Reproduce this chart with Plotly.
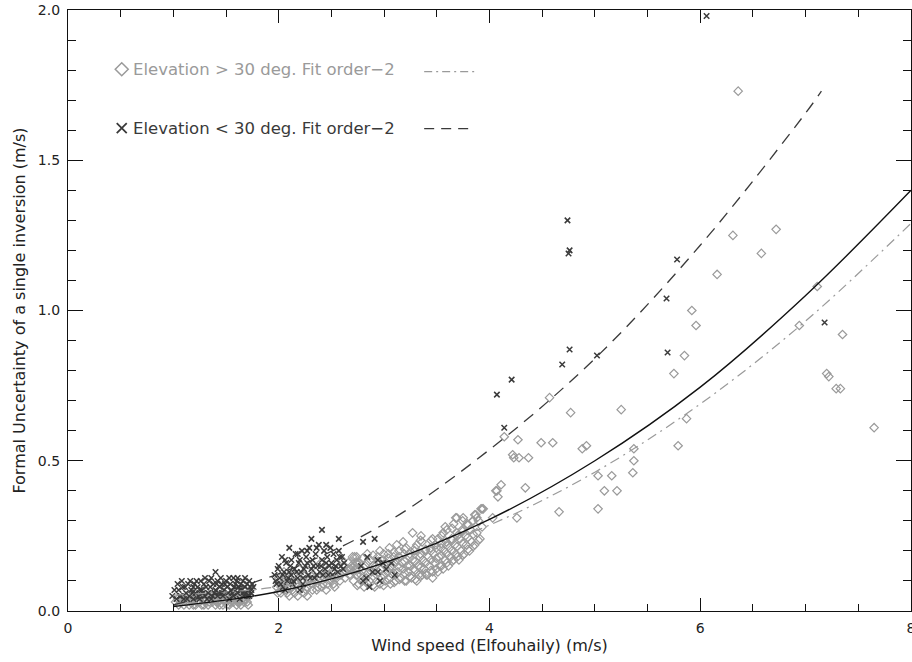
import plotly.graph_objects as go

# ---------------- data ----------------
# Elevation > 30 deg (grey open diamonds)
high_cluster_a = [(1.02,0.03),(1.05,0.02),(1.08,0.04),(1.10,0.02),(1.12,0.03),(1.14,0.05),(1.15,0.02),
    (1.18,0.03),(1.20,0.04),(1.21,0.02),(1.23,0.05),(1.25,0.03),(1.27,0.02),(1.28,0.04),(1.30,0.03),
    (1.32,0.05),(1.33,0.02),(1.35,0.04),(1.37,0.03),(1.38,0.06),(1.40,0.02),(1.42,0.04),(1.43,0.03),
    (1.45,0.05),(1.47,0.02),(1.48,0.04),(1.50,0.03),(1.52,0.05),(1.53,0.02),(1.55,0.04),(1.57,0.03),
    (1.58,0.06),(1.60,0.02),(1.62,0.04),(1.63,0.03),(1.65,0.05),(1.67,0.03),(1.68,0.04),(1.70,0.03),
    (1.72,0.05),(1.30,0.07),(1.45,0.07),(1.60,0.07),(1.20,0.06),(1.68,0.07),
    (1.04,0.04),(1.07,0.03),(1.11,0.04),(1.16,0.04),(1.19,0.02),(1.22,0.03),(1.26,0.05),(1.29,0.02),
    (1.31,0.04),(1.34,0.03),(1.36,0.05),(1.39,0.04),(1.41,0.03),(1.44,0.02),(1.46,0.04),(1.49,0.05),
    (1.51,0.02),(1.54,0.03),(1.56,0.05),(1.59,0.04),(1.61,0.03),(1.64,0.02),(1.66,0.04),(1.69,0.05),
    (1.71,0.02)]
high_cluster_b = [(1.98,0.08),(2.00,0.11),(2.02,0.06),(2.04,0.09),(2.05,0.13),(2.07,0.07),(2.09,0.10),
    (2.10,0.05),(2.12,0.08),(2.14,0.12),(2.15,0.06),(2.17,0.09),(2.19,0.14),(2.20,0.07),(2.22,0.10),
    (2.24,0.06),(2.25,0.12),(2.27,0.08),(2.29,0.11),(2.30,0.15),(2.32,0.07),(2.34,0.10),(2.35,0.13),
    (2.37,0.08),(2.39,0.11),(2.40,0.16),(2.42,0.09),(2.44,0.12),(2.45,0.07),(2.47,0.14),(2.49,0.10),
    (2.50,0.13),(2.52,0.09),(2.54,0.16),(2.55,0.11),(2.57,0.14),(2.59,0.12),(2.60,0.17),(2.62,0.15),
    (2.64,0.13),(2.66,0.16),(2.68,0.14),(2.70,0.18),(2.72,0.15),(2.27,0.05),
    (1.99,0.06),(2.03,0.08),(2.06,0.10),(2.08,0.06),(2.11,0.11),(2.13,0.07),(2.16,0.10),(2.18,0.05),
    (2.21,0.08),(2.23,0.12),(2.26,0.07),(2.28,0.10),(2.31,0.09),(2.33,0.12),(2.36,0.07),(2.38,0.10),
    (2.41,0.08),(2.43,0.11),(2.46,0.09),(2.48,0.12),(2.51,0.11),(2.53,0.08),(2.56,0.12),(2.58,0.10),
    (2.61,0.13),(2.63,0.11),(2.65,0.14),(2.67,0.12),(2.69,0.15),(2.71,0.13),(2.74,0.16),(2.74,0.12)]
high_cluster_c = [(2.71,0.10),(2.73,0.14),(2.72,0.18),(2.76,0.09),(2.78,0.12),(2.77,0.16),
    (2.81,0.08),(2.83,0.11),(2.82,0.15),(2.84,0.19),(2.86,0.10),(2.88,0.13),(2.87,0.17),
    (2.91,0.08),(2.93,0.12),(2.92,0.15),(2.94,0.18),(2.96,0.09),(2.98,0.11),(2.97,0.14),(2.99,0.17),
    (3.01,0.10),(3.03,0.13),(3.02,0.16),(3.04,0.19),(3.06,0.09),(3.08,0.12),(3.07,0.15),(3.09,0.18),
    (3.11,0.10),(3.13,0.13),(3.12,0.17),(3.14,0.20),(3.16,0.11),(3.18,0.14),(3.17,0.16),(3.19,0.19),
    (3.21,0.10),(3.23,0.13),(3.22,0.15),(3.24,0.18),(3.21,0.21),(3.26,0.11),(3.28,0.14),(3.27,0.17),
    (3.29,0.20),(3.31,0.10),(3.33,0.12),(3.32,0.15),(3.34,0.18),(3.31,0.22),(3.36,0.12),(3.38,0.14),
    (3.37,0.17),(3.39,0.20),(3.36,0.23),(3.41,0.12),(3.43,0.15),(3.42,0.18),(3.44,0.21),
    (3.46,0.13),(3.48,0.16),(3.47,0.19),(3.49,0.22),(3.51,0.13),(3.53,0.15),(3.52,0.18),(3.54,0.21),
    (3.51,0.24),(3.56,0.14),(3.58,0.17),(3.57,0.20),(3.59,0.23),(3.56,0.26),(3.61,0.15),(3.63,0.18),
    (3.62,0.21),(3.64,0.24),(3.66,0.17),(3.68,0.19),(3.67,0.22),(3.69,0.26),(3.66,0.29),(3.71,0.17),
    (3.73,0.20),(3.72,0.24),(3.74,0.27),(3.76,0.19),(3.78,0.22),(3.77,0.25),(3.79,0.29),(3.81,0.20),
    (3.83,0.23),(3.82,0.27),(3.84,0.30),(3.86,0.22),(3.88,0.26),(3.87,0.32),(3.91,0.24),(3.93,0.28),
    (3.92,0.34),(2.74,0.18),(3.12,0.22),(3.27,0.26),(3.46,0.24),(3.46,0.11),(3.40,0.12),(3.69,0.31),
    (2.96,0.20),(3.05,0.21),(3.18,0.23),(3.35,0.25),(3.58,0.28),(3.75,0.31)]
high_cluster_c2 = [(2.745,0.085),(2.745,0.12),(2.745,0.155),(2.795,0.10),(2.795,0.135),(2.795,0.175),
    (2.845,0.09),(2.845,0.125),(2.845,0.16),(2.895,0.085),(2.895,0.115),(2.895,0.15),(2.895,0.185),
    (2.945,0.095),(2.945,0.13),(2.945,0.165),(2.995,0.085),(2.995,0.12),(2.995,0.155),(2.995,0.19),
    (3.045,0.105),(3.045,0.14),(3.045,0.175),(3.095,0.095),(3.095,0.125),(3.095,0.16),(3.095,0.195),
    (3.145,0.105),(3.145,0.145),(3.145,0.18),(3.195,0.10),(3.195,0.125),(3.195,0.165),(3.195,0.205),
    (3.245,0.115),(3.245,0.15),(3.245,0.19),(3.295,0.105),(3.295,0.135),(3.295,0.165),(3.295,0.21),
    (3.345,0.115),(3.345,0.145),(3.345,0.19),(3.345,0.235),(3.395,0.125),(3.395,0.16),(3.395,0.205),
    (3.445,0.135),(3.445,0.17),(3.445,0.20),(3.445,0.235),(3.495,0.14),(3.495,0.175),(3.495,0.21),
    (3.545,0.15),(3.545,0.185),(3.545,0.225),(3.545,0.25),(3.595,0.16),(3.595,0.19),(3.595,0.22),
    (3.595,0.27),(3.645,0.165),(3.645,0.20),(3.645,0.235),(3.645,0.275),(3.695,0.18),(3.695,0.215),
    (3.695,0.25),(3.745,0.185),(3.745,0.225),(3.745,0.265),(3.745,0.30),(3.795,0.205),(3.795,0.245),
    (3.795,0.285),(3.845,0.215),(3.845,0.255),(3.845,0.30),(3.895,0.235),(3.895,0.30)]
high_sparse = [(4.07,0.40),(4.11,0.42),(4.08,0.38),(3.93,0.34),(3.86,0.32),(4.57,0.71),(4.77,0.66),
    (5.25,0.67),(4.14,0.58),(4.27,0.57),(4.49,0.56),(4.60,0.56),(4.22,0.52),(4.23,0.51),(4.28,0.51),
    (4.37,0.51),(4.92,0.55),(4.88,0.54),(5.37,0.54),(5.37,0.50),(5.36,0.46),(5.03,0.45),(5.16,0.45),
    (5.09,0.40),(5.21,0.40),(5.03,0.34),(4.66,0.33),(4.06,0.40),(4.34,0.41),(3.94,0.34),(3.88,0.31),
    (3.68,0.31),(4.03,0.31),(4.26,0.31),(6.58,1.19),(6.16,1.12),(5.92,1.00),(5.96,0.95),(5.85,0.85),
    (5.75,0.79),(7.11,1.08),(6.94,0.95),(7.35,0.92),(7.20,0.79),(7.22,0.78),(7.29,0.74),(7.33,0.74),
    (7.65,0.61),(5.87,0.64),(5.79,0.55),(6.36,1.73),(6.31,1.25),(6.72,1.27)]

# Elevation < 30 deg (dark crosses)
low_cluster_a = [(0.99,0.05),(1.03,0.04),(1.05,0.07),(1.07,0.05),(1.09,0.08),(1.10,0.04),(1.12,0.06),
    (1.14,0.09),(1.15,0.05),(1.17,0.07),(1.19,0.04),(1.20,0.09),(1.21,0.06),(1.23,0.08),(1.24,0.05),
    (1.26,0.10),(1.27,0.07),(1.29,0.09),(1.30,0.05),(1.31,0.08),(1.33,0.06),(1.34,0.10),(1.35,0.08),
    (1.37,0.05),(1.38,0.09),(1.40,0.13),(1.40,0.07),(1.42,0.10),(1.43,0.06),(1.44,0.08),(1.46,0.09),
    (1.47,0.05),(1.48,0.07),(1.50,0.10),(1.51,0.08),(1.52,0.06),(1.54,0.09),(1.55,0.07),(1.57,0.11),
    (1.57,0.05),(1.58,0.08),(1.60,0.10),(1.61,0.06),(1.62,0.08),(1.63,0.04),(1.64,0.09),(1.65,0.07),
    (1.66,0.10),(1.67,0.05),(1.68,0.08),(1.69,0.06),(1.70,0.09),(1.71,0.07),(1.72,0.05),(1.73,0.08),
    (1.74,0.06),(1.75,0.09),(1.25,0.04),(1.36,0.04),(1.53,0.04),
    (1.01,0.07),(1.04,0.09),(1.06,0.05),(1.08,0.10),(1.11,0.08),(1.13,0.04),(1.16,0.10),(1.18,0.06),
    (1.22,0.10),(1.25,0.07),(1.28,0.06),(1.30,0.11),(1.32,0.04),(1.36,0.11),(1.39,0.06),(1.41,0.09),
    (1.45,0.11),(1.46,0.06),(1.49,0.09),(1.53,0.11),(1.56,0.06),(1.59,0.09),(1.61,0.11),(1.63,0.07),
    (1.66,0.06),(1.68,0.11),(1.70,0.05),(1.72,0.10),(1.74,0.07),(1.76,0.08),(1.19,0.08),(1.42,0.05)]
low_cluster_b = [(1.96,0.12),(1.98,0.09),(2.00,0.15),(2.01,0.11),(2.03,0.18),(2.04,0.08),(2.05,0.13),
    (2.07,0.16),(2.08,0.10),(2.10,0.21),(2.10,0.13),(2.12,0.17),(2.13,0.09),(2.15,0.14),(2.16,0.19),
    (2.18,0.11),(2.19,0.16),(2.21,0.13),(2.22,0.20),(2.23,0.09),(2.25,0.15),(2.26,0.18),(2.28,0.12),
    (2.29,0.21),(2.31,0.24),(2.31,0.14),(2.32,0.17),(2.34,0.11),(2.35,0.19),(2.37,0.15),(2.38,0.22),
    (2.39,0.13),(2.41,0.27),(2.41,0.17),(2.43,0.20),(2.44,0.14),(2.46,0.18),(2.47,0.12),(2.49,0.21),
    (2.50,0.16),(2.52,0.19),(2.53,0.14),(2.55,0.17),(2.57,0.24),(2.57,0.20),(2.59,0.15),(2.60,0.18),
    (2.62,0.16),(2.06,0.07),(2.20,0.07),
    (1.97,0.10),(1.99,0.14),(2.02,0.09),(2.04,0.12),(2.06,0.17),(2.09,0.11),(2.11,0.15),(2.14,0.10),
    (2.17,0.13),(2.20,0.17),(2.23,0.11),(2.24,0.14),(2.27,0.16),(2.30,0.11),(2.33,0.15),(2.36,0.12),
    (2.36,0.21),(2.40,0.15),(2.42,0.12),(2.45,0.16),(2.48,0.15),(2.51,0.12),(2.54,0.15),(2.56,0.13),
    (2.58,0.18),(2.61,0.14),(2.27,0.20),(2.18,0.19),(2.45,0.22),(2.12,0.12)]
low_cluster_c = [(2.80,0.23),(2.91,0.24),(2.83,0.11),(2.94,0.13),(3.07,0.16),(2.80,0.10),(2.89,0.13),
    (2.99,0.16),(2.78,0.15),(2.86,0.08),(2.96,0.10),(3.02,0.14),(2.84,0.18),(3.10,0.12),(2.94,0.17)]
low_sparse = [(6.06,1.98),(4.74,1.30),(4.76,1.20),(4.75,1.19),(5.78,1.17),(5.68,1.04),(5.69,0.86),
    (7.18,0.96),(4.76,0.87),(4.69,0.82),(5.02,0.85),(4.21,0.77),(4.07,0.72),(4.14,0.61)]

# Quadratic fits
fit_all_x = [1.0, 2.0, 3.0, 4.0, 5.0, 6.0, 7.0, 8.0]
fit_all_y = [0.015, 0.065, 0.16, 0.305, 0.50, 0.745, 1.05, 1.40]
fit_low_x = [1.0, 2.0, 3.0, 4.0, 5.0, 6.0, 7.0, 7.15]
fit_low_y = [0.02, 0.124, 0.29, 0.537, 0.84, 1.217, 1.657, 1.73]
fit_high_x = [1.0, 2.0, 3.0, 4.0, 5.0, 6.0, 7.0, 8.0]
fit_high_y = [0.053, 0.081, 0.158, 0.286, 0.462, 0.689, 0.965, 1.29]

x_ticks = [0, 2, 4, 6, 8]
y_ticks = [0.0, 0.5, 1.0, 1.5, 2.0]

legend_high = "Elevation > 30 deg. Fit order\u22122"
legend_low = "Elevation < 30 deg. Fit order\u22122"
x_title = "Wind speed (Elfouhaily) (m/s)"
y_title = "Formal Uncertainty of a single inversion (m/s)"

GREY = "#9a9a9a"
DARK = "#3a3a3a"
FONT = "DejaVu Sans"

def unzip(*groups):
    xs, ys = [], []
    for g in groups:
        for a, b in g:
            xs.append(a); ys.append(b)
    return xs, ys

hx, hy = unzip(high_cluster_a, high_cluster_b, high_cluster_c, high_cluster_c2, high_sparse)
lx, ly = unzip(low_cluster_a, low_cluster_b, low_cluster_c, low_sparse)

fig = go.Figure()
fig.add_trace(go.Scatter(x=hx, y=hy, mode="markers",
    marker=dict(symbol="diamond-open", size=6.5, color=GREY, line=dict(width=1.2, color=GREY))))
fig.add_trace(go.Scatter(x=lx, y=ly, mode="markers",
    marker=dict(symbol="x-thin-open", size=5.5, color=DARK, line=dict(width=1.5, color=DARK))))
fig.add_trace(go.Scatter(x=fit_high_x, y=fit_high_y, mode="lines", line_shape="spline",
    line=dict(color=GREY, width=1.2, dash="10px,5px,2px,5px")))
fig.add_trace(go.Scatter(x=fit_low_x, y=fit_low_y, mode="lines", line_shape="spline",
    line=dict(color=DARK, width=1.3, dash="12px,8px")))
fig.add_trace(go.Scatter(x=fit_all_x, y=fit_all_y, mode="lines", line_shape="spline",
    line=dict(color="#111111", width=1.4)))

# legend (IDL style) in data coordinates
leg_x = 0.51
leg_y_high, leg_y_low = 1.803, 1.607
fig.add_trace(go.Scatter(x=[leg_x], y=[leg_y_high], mode="markers",
    marker=dict(symbol="diamond-open", size=10, color=GREY, line=dict(width=1.5, color=GREY))))
fig.add_trace(go.Scatter(x=[leg_x], y=[leg_y_low], mode="markers",
    marker=dict(symbol="x-thin-open", size=10, color=DARK, line=dict(width=1.8, color=DARK))))
fig.add_trace(go.Scatter(x=[3.38, 3.87], y=[1.795, 1.795], mode="lines",
    line=dict(color=GREY, width=1.2, dash="8px,4px,2px,4px")))
fig.add_trace(go.Scatter(x=[3.38, 3.81], y=[1.605, 1.605], mode="lines",
    line=dict(color=DARK, width=1.3, dash="10px,7px")))
fig.add_annotation(x=0.60, y=leg_y_high, text=legend_high, showarrow=False, xanchor="left",
    yanchor="middle", font=dict(family=FONT, size=16.5, color=GREY))
fig.add_annotation(x=0.60, y=leg_y_low, text=legend_low, showarrow=False, xanchor="left",
    yanchor="middle", font=dict(family=FONT, size=16.5, color=DARK))

axis_common = dict(showgrid=False, zeroline=False, showline=True, linecolor="#111111", linewidth=1.3,
    ticks="inside", mirror="ticks", tickcolor="#111111", tickwidth=1.3, ticklabeloverflow="allow",
    automargin=False, tickfont=dict(family=FONT, size=14, color="#222222"))
fig.update_xaxes(range=[0, 8], tickmode="array", tickvals=x_ticks, ticktext=[str(v) for v in x_ticks],
    ticklen=13,
    minor=dict(tickmode="linear", tick0=0, dtick=0.5, ticklen=7, ticks="inside", tickcolor="#111111", tickwidth=1.2),
    title=dict(text=x_title, font=dict(family=FONT, size=16, color="#222222"), standoff=4),
    ticklabelstandoff=4, **axis_common)
fig.update_yaxes(range=[0, 2], tickmode="array", tickvals=y_ticks, ticktext=[f"{v:.1f}" for v in y_ticks],
    ticklen=15,
    minor=dict(tickmode="linear", tick0=0, dtick=0.1, ticklen=8, ticks="inside", tickcolor="#111111", tickwidth=1.2),
    title=dict(text=y_title, font=dict(family=FONT, size=16, color="#222222"), standoff=8),
    ticklabelstandoff=4, **axis_common)
fig.update_layout(width=912, height=662, margin=dict(l=68, r=1, t=10, b=51),
    paper_bgcolor="white", plot_bgcolor="white", showlegend=False)
fig.write_html("out.html")
